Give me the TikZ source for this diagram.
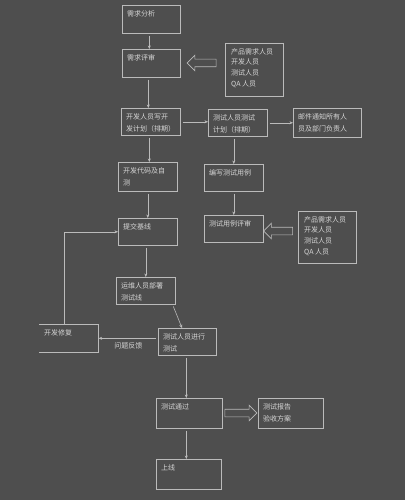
\documentclass[tikz,border=0pt]{standalone}
\usepackage{fontspec}
\newfontfamily\cjk{Noto Sans CJK SC}
\usetikzlibrary{positioning, calc, arrows.meta, shapes.arrows}
\definecolor{bg}{HTML}{4E4E4E}
\definecolor{ln}{HTML}{BBBBBB}
\definecolor{tx}{HTML}{D6D6D6}
\tikzset{
  > = {Stealth[length = 3.5pt, width = 3pt]},
  every node/.style = {font = \cjk\fontsize{7}{12}\selectfont, text = tx},
  box/.style n args = {2}{draw = ln, line width = 0.6pt, anchor = north west,
    inner sep = 0pt, minimum width = #1, minimum height = #2},
  openbox/.style n args = {2}{box = {#1}{#2}, draw = none},
  caption/.style = {anchor = north west, inner sep = 0pt, align = left,
    xshift = 5pt, yshift = -5pt},
  staff/.style = {anchor = north west, inner sep = 0pt, align = left,
    xshift = 6pt, yshift = -5pt, font = \cjk\fontsize{7}{10.7}\selectfont},
  flow/.style = {->, draw = ln, line width = 0.6pt, shorten < = 2pt},
  hollow/.style = {single arrow, draw = ln, line width = 0.6pt, inner sep = 3.5pt,
    minimum height = #1, single arrow head extend = 4pt}
}

\begin{document}
\begin{tikzpicture}[x = 1pt, y = -1pt]

\fill [bg] (0,0) rectangle (405,500);
\useasboundingbox (0,0) rectangle (405,500);

% left column
\node [box = {58}{28}, label = {[caption]north west:需求分析}] (xqfx) at (122,5) {};
\node [box = {58}{28}, label = {[caption]north west:需求评审}] (xqps) at (122,49) {};
\node [box = {59}{27}, label = {[caption]north west:开发人员写开\\发计划（排期）}] (kfjh) at (121,108) {};
\node [box = {59}{29}, label = {[caption]north west:开发代码及自\\测}] (kfdm) at (118,162) {};
\node [box = {59}{27}, label = {[caption]north west:提交基线}] (tjjx) at (118,218) {};
\node [box = {59}{27}, label = {[caption]north west:运维人员部署\\测试线}] (ywbs) at (116,277) {};
\node [box = {58}{27}, label = {[caption]north west:测试人员进行\\测试}] (csjx) at (158,328) {};
\node [openbox = {59}{28}, label = {[caption]north west:开发修复}] (kfxf) at (39,324) {};
\draw [ln, line width = 0.6pt] (kfxf.north west) -- (kfxf.north east)
  -- (kfxf.south east) -- (kfxf.south west);
\node [box = {66}{30}, label = {[caption]north west:测试通过}] (cstg) at (156,398) {};
\node [box = {65}{30}, label = {[caption]north west:上线}] (sx) at (156,459) {};

% right column
\node [box = {59}{27}, label = {[caption]north west:测试人员测试\\计划（排期）}] (csjh) at (208,109) {};
\node [box = {68}{29}, label = {[caption]north west:邮件通知所有人\\员及部门负责人}] (yjtz) at (293,108) {};
\node [box = {59}{27}, label = {[caption]north west:编写测试用例}] (bxyl) at (204,164) {};
\node [box = {59}{27}, label = {[caption]north west:测试用例评审}] (ylps) at (204,215) {};
\node [box = {65}{30}, label = {[caption]north west:测试报告\\验收方案}] (csbg) at (258,398) {};

% people
\node [box = {58}{53}, label = {[staff]north west:产品需求人员\\开发人员\\测试人员\\QA 人员}] (ryA) at (225,43) {};
\node [box = {58}{52}, label = {[staff]north west:产品需求人员\\开发人员\\测试人员\\QA 人员}] (ryB) at (298,211) {};

\node [hollow = 29pt, shape border rotate = 180] (hA) at (203.5,63) {};
\node [hollow = 29pt, shape border rotate = 180] (hB) at (280,231) {};
\node [hollow = 32pt] (hC) at (239,413) {};

% connectors
\draw [flow] ([xshift = -2pt]xqfx.south) -- ([xshift = -2pt]xqfx.south |- xqps.north);
\draw [flow] ([xshift = -3pt]xqps.south) -- ([xshift = -3pt]xqps.south |- kfjh.north);
\draw [flow] (kfjh.east) -- (kfjh.east -| csjh.west);
\draw [flow] (csjh.east) -- (csjh.east -| yjtz.west);
\draw [flow] ([xshift = -1.5pt]kfjh.south) -- ([xshift = -1.5pt]kfjh.south |- kfdm.north);
\draw [flow] (bxyl.north |- csjh.south) -- (bxyl.north);
\draw [flow] (kfdm.south) -- (tjjx.north);
\draw [flow] (bxyl.south) -- (ylps.north);
\draw [flow] (ywbs.north |- tjjx.south) -- (ywbs.north);
\draw [flow] ([xshift = -3pt]ywbs.south east) -- ([xshift = 24pt]csjx.north west);
\draw [flow] (csjx.west |- kfxf.east) -- (kfxf.east)
  node [midway, below = 1pt] {问题反馈};
\draw [flow, shorten < = 0pt] ([xshift = -4.5pt]kfxf.north) |- (tjjx.west);
\draw [flow] ([xshift = -1pt]csjx.south) -- ([xshift = -1pt]csjx.south |- cstg.north);
\draw [flow] ([xshift = -3pt]cstg.south) -- ([xshift = -3pt]cstg.south |- sx.north);

\end{tikzpicture}
\end{document}
